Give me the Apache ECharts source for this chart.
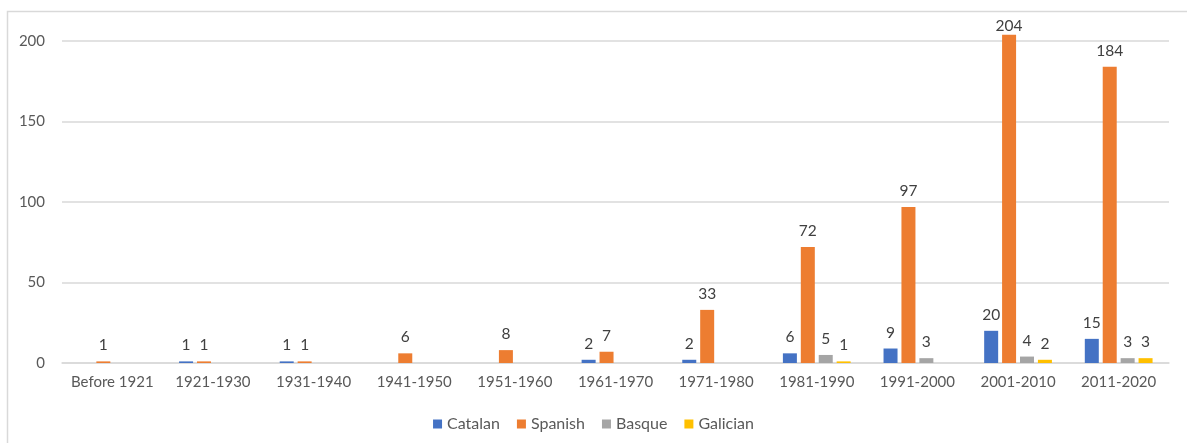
<!DOCTYPE html>
<html>
<head>
    <meta charset="utf-8"/>
    <title>Translations by decade</title>
    <script src="https://cdn.jsdelivr.net/npm/echarts@6/dist/echarts.min.js"></script>
    <style>
        html, body { margin: 0; padding: 0; background: #fff; }
    </style>
</head>
<body>
    <div id="myChart" style="width: 1187px; height: 443px;"></div>
<script type="text/javascript">
    // categories and values
    var decades = ['Before 1921', '1921-1930', '1931-1940', '1941-1950', '1951-1960',
        '1961-1970', '1971-1980', '1981-1990', '1991-2000', '2001-2010', '2011-2020'];
    var catalan  = [0, 1, 1, 0, 0, 2, 2, 6, 9, 20, 15];
    var spanish  = [1, 1, 1, 6, 8, 7, 33, 72, 97, 204, 184];
    var basque   = [0, 0, 0, 0, 0, 0, 0, 5, 3, 4, 3];
    var galician = [0, 0, 0, 0, 0, 0, 0, 1, 0, 2, 3];
    var yTicks = [0, 50, 100, 150, 200];

    var textColor = '#595959';
    var lineColor = '#d9d9d9';
    var fontName = 'Lato';

    var makeSeries = function (name, data, color) {
        return {
            name: name,
            type: 'bar',
            data: data,
            barWidth: 14,
            barGap: '28%',
            itemStyle: { color: color },
            label: {
                show: true,
                position: 'top',
                distance: 8,
                color: '#404040',
                fontFamily: fontName,
                fontSize: 15.5,
                formatter: function (p) { return p.value === 0 ? '' : p.value; }
            },
            // keep labels inside the chart frame, like the tallest bar's label
            labelLayout: function (p) {
                if (p.labelRect.y < 17.5) {
                    return { dy: 17.5 - p.labelRect.y };
                }
            }
        };
    };

    var myChart = echarts.init(document.getElementById('myChart'));
    var option = {
        animation: false,
        grid: { left: 62, right: 18, top: 25, bottom: 80 },
        graphic: [{
            type: 'rect',
            shape: { x: 7.5, y: 11.5, width: 1250, height: 500 },
            style: { fill: null, stroke: lineColor, lineWidth: 1.5 },
            silent: true
        }],
        legend: {
            bottom: 6,
            left: 'center',
            icon: 'rect',
            itemWidth: 9,
            itemHeight: 9,
            itemGap: 17,
            textStyle: { color: textColor, fontFamily: fontName, fontSize: 16 },
            data: ['Catalan', 'Spanish', 'Basque', 'Galician']
        },
        xAxis: {
            type: 'category',
            data: decades,
            axisLine: { lineStyle: { color: lineColor, width: 1.5 } },
            axisTick: { show: false },
            axisLabel: { color: textColor, fontFamily: fontName, fontSize: 15, margin: 12, interval: 0 }
        },
        yAxis: {
            type: 'value',
            min: yTicks[0],
            max: 210,
            interval: yTicks[1] - yTicks[0],
            axisLine: { show: false },
            axisTick: { show: false },
            axisLabel: { color: textColor, fontFamily: fontName, fontSize: 15, margin: 17, showMaxLabel: false },
            splitLine: { lineStyle: { color: lineColor, width: 1.5 }, showMaxLine: false }
        },
        series: [
            makeSeries('Catalan', catalan, '#4472C4'),
            makeSeries('Spanish', spanish, '#ED7D31'),
            makeSeries('Basque', basque, '#A5A5A5'),
            makeSeries('Galician', galician, '#FFC000')
        ]
    };
    myChart.setOption(option);
</script>
</body>
</html>
